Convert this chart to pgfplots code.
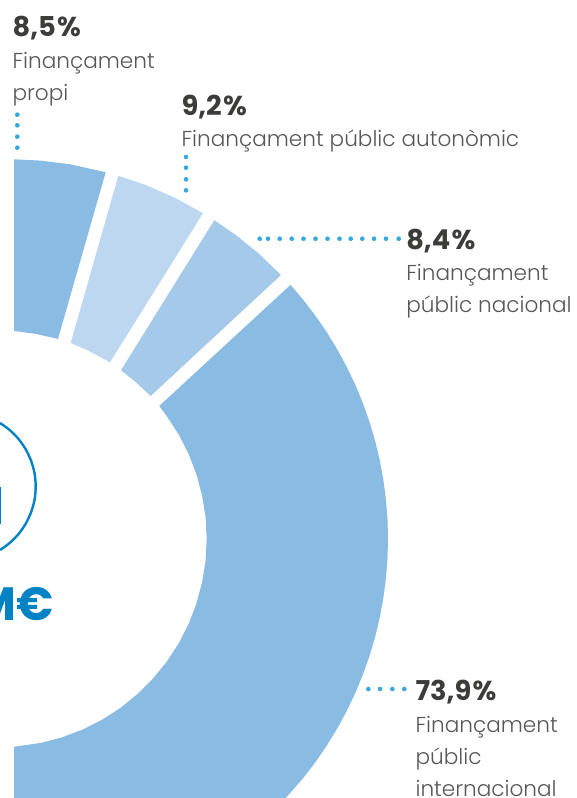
\documentclass[border=0pt]{standalone}
\usepackage{fontspec}
\usepackage{pgfplots}
\pgfplotsset{compat=1.18}
\setmainfont{Poppins}
\newfontfamily\lightf{Poppins Light}
\newfontfamily\boldf{Poppins Bold}
\definecolor{segA}{HTML}{8ABBE3}
\definecolor{segB}{HTML}{BDD7F0}
\definecolor{segC}{HTML}{A4C9E9}
\definecolor{numc}{HTML}{3C3C3B}
\definecolor{labc}{HTML}{575756}
\definecolor{blu}{HTML}{0083C5}
\definecolor{dotc}{HTML}{35A8E0}
\tikzset{
  num/.style={anchor=base west,inner sep=0pt,text=numc,font=\boldf\fontsize{20.5}{20.5}\selectfont},
  lab/.style={anchor=base west,inner sep=0pt,text=labc,font=\lightf\fontsize{16.2}{16.2}\selectfont}
}
\begin{document}
\begin{tikzpicture}
\path[use as bounding box] (0,0) rectangle (432pt,598.5pt);
\begin{axis}[at={(0,0)},anchor=south west,scale only axis,width=432pt,height=598.5pt,
  xmin=0,xmax=576,ymin=0,ymax=798,y dir=reverse,hide axis,clip=true]
% Finançament propi
\addplot[fill=segA,draw=none] coordinates {(14,159.3)(40,160.6)(70,164.3)(105.7,172.2)(58,338.9)(36,333.9)(14,331)} --cycle;
% Finançament públic autonòmic
\addplot[fill=segB,draw=none] coordinates {(118.3,175.8)(146,185.1)(175,197.8)(203,213.2)(110,362.3)(90,351.5)(70.7,342.9)} --cycle;
% Finançament públic nacional
\addplot[fill=segC,draw=none] coordinates {(214.3,220.2)(236,235.1)(259,253.8)(281,275)(150.7,396)(136,382.4)(121,370.2)} --cycle;
% Finançament públic internacional
\addplot[fill=segA,draw=none] coordinates {
(290.5,284.9)(303.4,300)(315.5,315.8)(326.8,332.2)(337.1,349.1)(346.6,366.6)(355.2,384.5)(362.8,402.9)(369.4,421.6)(375.1,440.7)(379.7,460)(383.3,479.5)(385.9,499.2)(387.5,519)(388,538.9)
(387.5,558.8)(385.9,578.6)(383.3,598.3)(379.7,617.8)(375.1,637.1)(369.4,656.2)(362.8,674.9)(355.2,693.3)(346.6,711.2)(337.1,728.7)(326.8,745.6)(315.5,762)(303.4,777.8)(285.8,798)
(14,798)(14,746.8)(41.5,742.8)(62.6,737.2)(83,729.4)(102.5,719.5)(120.8,707.6)(137.7,693.8)(153.1,678.4)(166.9,661.5)(178.8,643.2)(188.7,623.7)(196.5,603.3)(202.1,582.2)(205.6,560.7)(206.7,538.9)
(205.6,517.1)(202.1,495.6)(196.5,474.5)(188.7,454.1)(178.8,434.6)(166.9,416.3)(159.3,405.9)} --cycle;
% central circle
\addplot[blu,line width=1.8pt,smooth] coordinates {(0,423)(9.2,429.6)(18.3,438.7)(25.7,449.3)(31.2,461.1)(34.6,473.6)(35.7,486.5)(34.6,499.4)(31.2,511.9)(25.7,523.7)(18.3,534.3)(9.2,543.4)(0,550)};
\addplot[blu,line width=1.1pt] coordinates {(0.3,487)(0.3,524)};
% dotted leaders
\addplot[draw=none,color=dotc,mark=*,mark size=1.5pt,mark options={solid,fill=dotc,draw=dotc,line width=0.4pt}] coordinates {
(17.3,114.7)(17.3,125.3)(17.3,136.7)(17.3,147.7)
(186,157)(186,167.7)(186,179.3)(186,190.3)
(259.7,238.7)(268,238.7)(279.7,238.7)(291.7,238.7)(303.5,238.7)(315.5,238.7)(327.5,238.7)(339.5,238.7)(350.7,238.7)(362.3,238.7)(374,238.7)(386,238.7)(398.7,238.7)
(368.3,689)(380,689)(392.3,689)(404.3,689)};
% labels
\node[num] at (axis cs:12.3,36.5) {8,5\kern1pt\%};
\node[lab] at (axis cs:12.3,68.3) {Finançament};
\node[lab] at (axis cs:12.3,101) {propi};
\node[num] at (axis cs:181.3,115.3) {9,2\kern1pt\%};
\node[lab] at (axis cs:181.3,146.7) {Finançament públic autonòmic};
\node[num] at (axis cs:406,249.3) {8,4\kern1pt\%};
\node[lab] at (axis cs:406,280.7) {Finançament};
\node[lab] at (axis cs:406,312.7) {públic nacional};
\node[num] at (axis cs:415.3,700) {73,9\kern1pt\%};
\node[lab] at (axis cs:415.3,732) {Finançament};
\node[lab] at (axis cs:415.3,764) {públic};
\node[lab] at (axis cs:415.3,796) {internacional};
\node[anchor=base east,inner sep=0pt,text=blu,font=\boldf\fontsize{35}{35}\selectfont] at (axis cs:54,620) {M€};
\end{axis}
\end{tikzpicture}
\end{document}
